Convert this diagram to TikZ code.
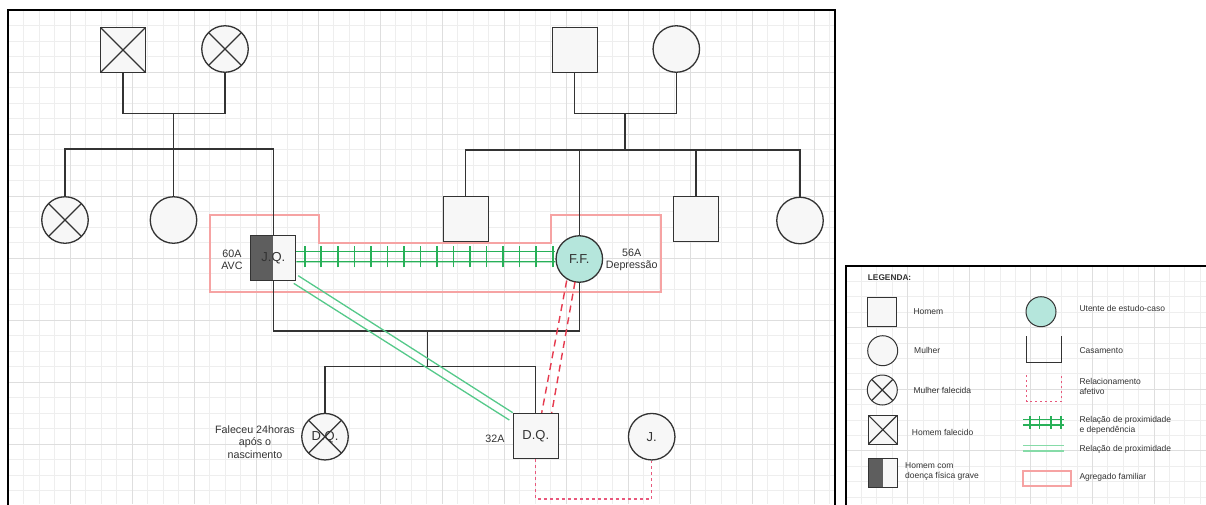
\documentclass[tikz,border=0pt]{standalone}
\usepackage{fontspec}
\setmainfont{Liberation Sans}
\usetikzlibrary{calc,decorations.markings}
\definecolor{linec}{HTML}{333333}
\definecolor{shapefill}{HTML}{F7F7F7}
\definecolor{gridminor}{HTML}{EEEEEE}
\definecolor{gridmajor}{HTML}{DEDEDE}
\definecolor{utente}{HTML}{B5E6DC}
\definecolor{agreg}{HTML}{F6A3A3}
\definecolor{redd}{HTML}{E63A4E}
\definecolor{afet}{HTML}{E8587C}
\definecolor{greendark}{HTML}{28B058}
\definecolor{greenlight}{HTML}{55C98A}
\definecolor{greenpale}{HTML}{86DBA8}
\definecolor{sick}{HTML}{5E5E5E}
\begin{document}
\begin{tikzpicture}[x=1pt,y=-1pt,
  man/.style={rectangle,draw=linec,fill=shapefill,line width=1.3pt,minimum size=45pt,inner sep=0pt,font=\fontsize{13}{15}\selectfont,text=linec},
  woman/.style={circle,draw=linec,fill=shapefill,line width=1.3pt,minimum size=46.5pt,inner sep=0pt,font=\fontsize{13}{15}\selectfont,text=linec},
  deadsq/.style={path picture={\draw[linec,line width=1.2pt] (path picture bounding box.north west) -- (path picture bounding box.south east) (path picture bounding box.north east) -- (path picture bounding box.south west);}},
  deadci/.style={path picture={\draw[linec,line width=1.2pt]
     ($(path picture bounding box.north west)!0.1464!(path picture bounding box.south east)$) -- ($(path picture bounding box.north west)!0.8536!(path picture bounding box.south east)$)
     ($(path picture bounding box.north east)!0.1464!(path picture bounding box.south west)$) -- ($(path picture bounding box.north east)!0.8536!(path picture bounding box.south west)$);}},
  sickm/.style={path picture={\fill[sick] (path picture bounding box.north west) rectangle (path picture bounding box.south);}},
  conn/.style={draw=linec,line width=1.3pt},
  lbl/.style={font=\fontsize{10.7}{12.4}\selectfont,align=center,text=linec,inner sep=0pt},
  legtxt/.style={font=\fontsize{8.5}{10}\selectfont,align=left,anchor=west,text=linec,inner sep=0pt},
  lman/.style={man,minimum size=29pt,line width=1pt},
  lwoman/.style={woman,minimum size=30pt,line width=1pt},
  prox/.style={draw=greenlight,line width=1.3pt},
  proxdep/.style={draw=greendark,line width=1.3pt},
  reddash/.style={draw=redd,line width=1.4pt,dash pattern=on 7pt off 5pt},
  afetline/.style={draw=afet,line width=1.2pt,dash pattern=on 3pt off 3pt},
  agregline/.style={draw=agreg,line width=2pt}
]
\useasboundingbox (0,0) rectangle (1206,504);
\fill[white] (0,0) rectangle (1206,504);
% main grid
\begin{scope}
\clip (8,10) rectangle (834,504);
\foreach \i in {0,...,54} \draw[gridminor,line width=0.8pt] ({8+15.5*\i},10) -- ({8+15.5*\i},504);
\foreach \i in {0,...,32} \draw[gridminor,line width=0.8pt] (8,{10+15.5*\i}) -- (834,{10+15.5*\i});
\foreach \i in {0,...,14} \draw[gridmajor,line width=0.9pt] ({8+62*\i},10) -- ({8+62*\i},504);
\foreach \i in {0,...,8} \draw[gridmajor,line width=0.9pt] (8,{10+62*\i}) -- (834,{10+62*\i});
\end{scope}
% legend grid
\begin{scope}
\clip (846,266) rectangle (1206,504);
\foreach \i in {0,...,24} \draw[gridminor,line width=0.8pt] ({846+15.4*\i},266) -- ({846+15.4*\i},504);
\foreach \i in {0,...,16} \draw[gridminor,line width=0.8pt] (846,{266+15.4*\i}) -- (1206,{266+15.4*\i});
\foreach \i in {0,...,6} \draw[gridmajor,line width=0.9pt] ({846+61.6*\i},266) -- ({846+61.6*\i},504);
\foreach \i in {0,...,4} \draw[gridmajor,line width=0.9pt] (846,{266+61.6*\i}) -- (1206,{266+61.6*\i});
\end{scope}
% frames
\draw[black,line width=2pt] (8,10) rectangle (834.5,530);
\draw[black,line width=2pt] (846,266) rectangle (1230,530);
% family household
\draw[agregline] (210,215) -- (319,215) -- (319,243.3) -- (551,243.3) -- (551,215) -- (661,215) -- (661,292) -- (210,292) -- cycle;
% persons
\node[man,deadsq] (gpm) at (123,50) {};
\node[woman,deadci] (gpf) at (225,49) {};
\node[man] (gm) at (574.7,50) {};
\node[woman] (gf) at (676.3,49) {};
\node[woman,deadci] (a1) at (65,220) {};
\node[woman] (a2) at (173.5,220) {};
\node[man,sickm] (jq) at (273.3,258) {J.Q.};
\node[man] (b1) at (465.7,219) {};
\node[woman,fill=utente] (ff) at (579.3,259) {F.F.};
\node[man] (b3) at (696,219) {};
\node[woman] (b4) at (800,220.5) {};
\node[woman,deadci] (dq1) at (325,436.7) {D.Q.};
\node[man] (dq2) at (535.8,436) {D.Q.};
\node[woman] (j) at (651.7,436.7) {J.};
% connectors
\coordinate (m1) at (173.5,113.3);
\coordinate (s1) at (173.5,149);
\draw[conn] (gpm.south) |- (m1) -| (gpf.south);
\draw[conn] (m1) -- (s1);
\draw[conn] (a1.north) |- (s1) -| (jq.north);
\draw[conn] (s1) -- (a2.north);
\coordinate (m3) at (625,113.3);
\coordinate (s3) at (625,150);
\draw[conn] (gm.south) |- (m3) -| (gf.south);
\draw[conn] (m3) -- (s3);
\draw[conn] (b1.north) |- (s3) -| (b4.north);
\draw[conn] (ff.north) -- (ff.north |- s3);
\draw[conn] (b3.north) -- (b3.north |- s3);
\coordinate (m2) at (427.7,331);
\coordinate (s2) at (427.7,366.7);
\draw[conn] (jq.south) |- (m2) -| (ff.south);
\draw[conn] (m2) -- (s2);
\draw[conn] (dq1.north) |- (s2) -| (dq2.north);
% relations
\draw[proxdep] ($(jq.east)+(0,-6.3)$) -- ($(ff.west)+(0,-7.3)$);
\draw[proxdep] ($(jq.east)+(0,3.8)$) -- ($(ff.west)+(0,2.7)$);
\path[decorate,decoration={markings,mark=between positions 8.3pt and 257pt step 16.53pt with {\draw[draw=greendark,line width=1.6pt] (0,-10.5pt) -- (0,10.5pt);}}] ($(jq.east)+(0,-1.2)$) -- ($(ff.west)+(0,-2.2)$);
\draw[prox] ($(jq.south east)+(1.7,-5.5)$) -- ($(dq2.north west)+(0,-0.2)$);
\draw[prox] ($(jq.south east)+(-2.7,2.2)$) -- ($(dq2.north west)+(-3.3,7.2)$);
\draw[reddash] ($(ff.south)+(-12.6,-2.3)$) -- ($(dq2.north)+(5.9,0)$);
\draw[reddash] ($(ff.south)+(-4.3,-1)$) -- ($(dq2.north)+(15.9,0)$);
\coordinate (afc) at (600,499);
\draw[afetline] (dq2.south) |- (afc) -| (j.south);
% labels
\node[lbl] (l60) at (232,260) {60A\\AVC};
\node[lbl] (l56) at (631.7,260) {56A\\Depressão};
\node[lbl] (lfal) at (255,442) {Faleceu 24horas\\após o\\nascimento};
\node[lbl] (l32) at (495,439) {32A};
% legend
\node[legtxt,font=\bfseries\fontsize{8.3}{10}\selectfont] (lgt) at (867.7,277.7) {LEGENDA:};
\node[lman] (lm) at (882.2,312) {};
\node[legtxt] (lmt) at (913.3,311.7) {Homem};
\node[lwoman] (lw) at (882.7,350.7) {};
\node[legtxt] (lwt) at (914,350.5) {Mulher};
\node[lwoman,deadci] (lwd) at (882.3,390) {};
\node[legtxt] (lwdt) at (913.3,390) {Mulher falecida};
\node[lman,deadsq] (lmd) at (882.8,429.7) {};
\node[legtxt] (lmdt) at (911.7,432.3) {Homem falecido};
\node[lman,sickm] (lms) at (882.8,472.5) {};
\node[legtxt] (lmst) at (905,471.7) {Homem com\\doença física grave};
\node[lwoman,fill=utente] (lu) at (1041,311.7) {};
\node[legtxt] (lut) at (1079.3,308.3) {Utente de estudo-caso};
\draw[conn,line width=1pt] (1026,336) -- (1026,362.3) -- (1061.7,362.3) -- (1061.7,336);
\node[legtxt] (lct) at (1079.3,351) {Casamento};
\draw[draw=afet,line width=1pt,dash pattern=on 2pt off 3pt] (1026.7,375) -- (1026.7,401.7) -- (1061.7,401.7) -- (1061.7,375);
\node[legtxt] (lat) at (1079.3,386.5) {Relacionamento\\afetivo};
\draw[proxdep,line width=1.1pt] (1023.3,419.3) -- (1064.3,419.3);
\draw[proxdep,line width=1.1pt] (1023.3,425) -- (1064.3,425);
\foreach \x in {1030,1039.3,1051,1061} \draw[proxdep,line width=1.1pt] (\x,416) -- (\x,429.3);
\node[legtxt] (lpdt) at (1079.3,425.7) {Relação de proximidade\\e dependência};
\draw[draw=greenpale,line width=1.2pt] (1023.3,445.7) -- (1064.3,445.7);
\draw[draw=greenpale,line width=1.2pt] (1023.3,451) -- (1064.3,451);
\node[legtxt] (lpt) at (1079.3,449.3) {Relação de proximidade};
\draw[agregline] (1022.7,470.7) rectangle (1071,486);
\node[legtxt] (lagt) at (1079.3,477.7) {Agregado familiar};
\end{tikzpicture}
\end{document}
